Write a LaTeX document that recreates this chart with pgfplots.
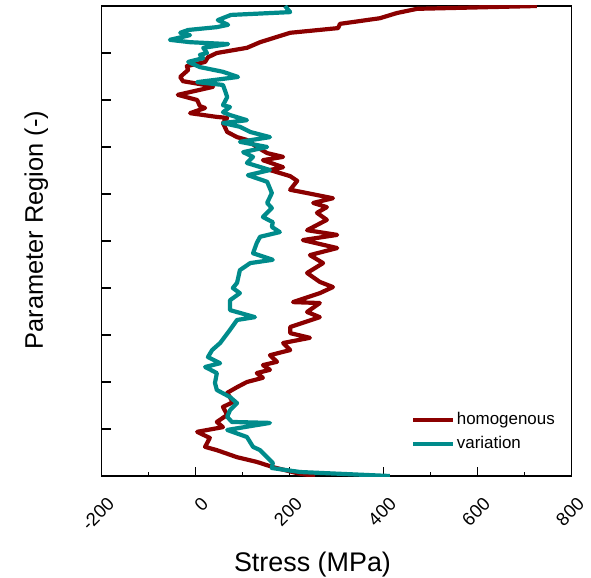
\documentclass[border=0pt]{standalone}
\usepackage{fontspec}
\setmainfont{Liberation Sans}
\usepackage{pgfplots}
\pgfplotsset{compat=1.18}
\definecolor{homred}{RGB}{139,0,0}
\definecolor{varteal}{RGB}{0,139,139}
\begin{document}
\begin{tikzpicture}
\begin{axis}[
    name=ax,
    scale only axis, width=470bp, height=470bp,
    xmin=-200, xmax=800, ymin=0, ymax=10,
    xtick={-200,0,...,800},
    minor xtick={-100,100,...,700},
    ytick={0,1,...,10}, yticklabels={},
    xtick pos=bottom, ytick pos=left,
    tick align=inside,
    major tick length=9bp, minor tick length=4.5bp,
    tick style={black, line width=1.3bp},
    axis line style={black, line width=1.4bp},
    /pgf/number format/assume math mode=true,
    xticklabel style={font=\fontsize{18.5}{21}\selectfont, inner sep=0pt,
        xshift=4.6bp, yshift=-20bp, rotate=45, anchor=north east},
    xlabel={Stress (MPa)},
    ylabel={Parameter Region (-)},
    xlabel style={font=\fontsize{27}{30}\selectfont,
        at={(axis description cs:0.4485,-0.204)}, anchor=base},
    ylabel style={font=\fontsize{25.5}{30}\selectfont,
        at={(axis description cs:-0.125,0.523)}, anchor=base},
    legend cell align={left},
    legend image code/.code={\draw[#1] (0bp,0bp) -- (40bp,0bp);},
    legend style={draw=none, fill=none, inner sep=0pt,
        at={(rel axis cs:0.658,0.141)}, anchor=north west,
        font=\fontsize{17}{20}\selectfont,
        nodes={text height=13bp, text depth=4bp, inner sep=1.5bp},
        row sep=4bp},
    every axis plot/.append style={line width=4.2bp, line join=round, no markers},
]
\addplot[homred] coordinates {
(726,10.00) (471,9.94) (428,9.85) (392,9.74) (307,9.62) (303,9.53) (201,9.43)
(137,9.23) (109,9.11) (45,9.00) (26,8.91) (20,8.81) (-19,8.72) (-16,8.64)
(-33,8.49) (-27,8.40) (20,8.32) (37,8.28) (-38,8.11) (-12,8.04) (3,8.00)
(9,7.87) (20,7.83) (-12,7.72) (45,7.64) (67,7.62) (58,7.51) (67,7.32)
(88,7.21) (109,7.15) (130,7.00) (152,6.87) (186,6.79) (143,6.72) (186,6.57)
(158,6.51) (201,6.38) (216,6.28) (201,6.09) (237,6.02) (292,5.91) (250,5.81)
(279,5.72) (258,5.60) (279,5.45) (237,5.23) (301,5.13) (228,5.02) (301,4.85)
(243,4.70) (271,4.53) (237,4.32) (264,4.13) (292,4.02) (264,3.89) (207,3.70)
(264,3.68) (237,3.49) (264,3.38) (201,3.17) (201,3.04) (243,2.94) (186,2.83)
(201,2.68) (158,2.57) (173,2.43) (143,2.36) (158,2.26) (130,2.19) (143,2.09)
(109,2.00) (88,1.89) (67,1.77) (79,1.57) (58,1.47) (67,1.30) (45,1.15)
(58,1.04) (3,0.94) (30,0.81) (20,0.62) (45,0.55) (88,0.40) (130,0.30)
(164,0.19) (216,0.06) (254,0)
};
\addlegendentry{homogenous}
\addplot[varteal] coordinates {
(190,10.00) (201,9.87) (75,9.81) (47,9.70) (69,9.60) (45,9.55) (-16,9.49)
(-33,9.43) (-12,9.38) (-55,9.28) (-12,9.23) (69,9.19) (16,9.11) (24,9.00)
(9,8.96) (16,8.89) (-16,8.81) (9,8.70) (58,8.60) (90,8.49) (3,8.38)
(58,8.32) (62,8.21) (67,8.06) (58,7.89) (73,7.85) (58,7.74) (73,7.68)
(109,7.57) (58,7.51) (94,7.43) (116,7.32) (158,7.21) (94,7.11) (152,7.00)
(101,6.89) (122,6.79) (109,6.66) (158,6.51) (111,6.40) (152,6.26) (162,6.02)
(152,5.81) (162,5.70) (143,5.51) (164,5.40) (162,5.30) (179,5.19) (137,5.09)
(130,4.96) (122,4.74) (164,4.60) (116,4.53) (94,4.38) (88,4.11) (79,4.00)
(94,3.89) (73,3.74) (73,3.53) (126,3.38) (88,3.32) (73,3.11) (52,2.83)
(35,2.68) (26,2.53) (52,2.40) (20,2.32) (45,2.19) (41,1.98) (45,1.83)
(73,1.68) (88,1.55) (73,1.40) (67,1.26) (77,1.15) (158,1.13) (67,0.98)
(109,0.83) (122,0.62) (137,0.55) (152,0.40) (164,0.28) (162,0.17) (222,0.085)
(413,0)
};
\addlegendentry{variation}
\end{axis}
\pgfresetboundingbox
\path[use as bounding box] ([xshift=-101.7bp,yshift=-101bp]ax.south west)
    rectangle ([xshift=19.3bp,yshift=6bp]ax.north east);
\end{tikzpicture}
\end{document}
